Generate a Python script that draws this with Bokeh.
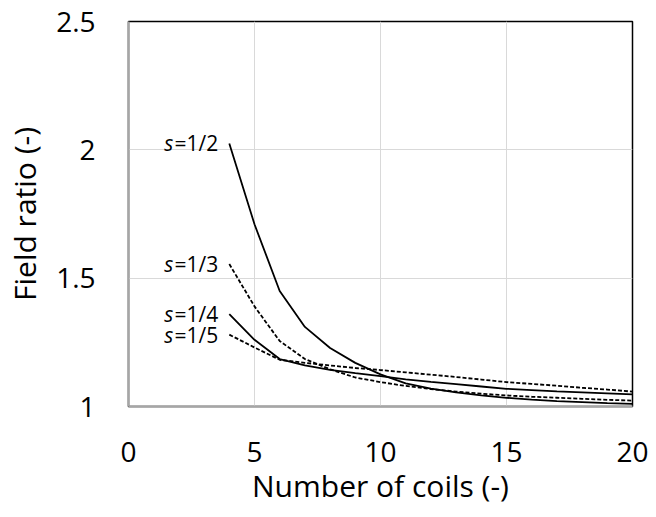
from bokeh.plotting import figure
from bokeh.models import FixedTicker, ColumnDataSource
from bokeh.core.properties import value
from bokeh.embed import file_html
from bokeh.resources import INLINE

coils = [4, 5, 6, 7, 8, 9, 10, 11, 12, 13, 14, 15, 16, 17, 18, 19, 20]
s_half = [2.025, 1.71, 1.45, 1.31, 1.228, 1.17, 1.125, 1.09, 1.07, 1.055, 1.043, 1.034, 1.027, 1.021, 1.017, 1.013, 1.010]
s_third = [1.555, 1.39, 1.255, 1.185, 1.145, 1.113, 1.095, 1.08, 1.068, 1.058, 1.05, 1.043, 1.038, 1.034, 1.03, 1.026, 1.023]
s_quarter = [1.36, 1.26, 1.185, 1.16, 1.143, 1.13, 1.118, 1.106, 1.096, 1.087, 1.078, 1.069, 1.064, 1.059, 1.055, 1.051, 1.047]
s_fifth = [1.28, 1.23, 1.182, 1.17, 1.16, 1.15, 1.142, 1.133, 1.124, 1.115, 1.105, 1.095, 1.088, 1.081, 1.073, 1.066, 1.058]

series_labels = ["=1/2", "=1/3", "=1/4", "=1/5"]
series_values = [s_half, s_third, s_quarter, s_fifth]
series_dash = ["solid", "4 2", "solid", "4 2"]

x_ticks = [0, 5, 10, 15, 20]
y_ticks = [1, 1.5, 2, 2.5]
y_tick_labels = ["1", "1.5", "2", "2.5"]

FONT = "Open Sans"

p = figure(width=648, height=509, x_range=(0, 20), y_range=(1, 2.5),
           output_backend="svg", toolbar_location=None,
           min_border_left=128, min_border_right=16, min_border_top=21, min_border_bottom=103)

p.outline_line_color = "black"
p.outline_line_width = 1.5
p.background_fill_color = "white"
p.border_fill_color = "white"

p.xgrid.grid_line_color = "#d9d9d9"
p.ygrid.grid_line_color = "#d9d9d9"
p.xgrid.grid_line_width = 1
p.ygrid.grid_line_width = 1

p.xaxis.ticker = FixedTicker(ticks=x_ticks)
p.yaxis.ticker = FixedTicker(ticks=y_ticks)
p.yaxis.major_label_overrides = {t: l for t, l in zip(y_ticks, y_tick_labels)}

for ax in (p.xaxis, p.yaxis):
    ax.major_tick_line_color = None
    ax.minor_tick_line_color = None
    ax.major_tick_out = 0
    ax.major_tick_in = 0
    ax.minor_tick_out = 0
    ax.minor_tick_in = 0
    ax.axis_line_color = "#a6a6a6"
    ax.axis_line_width = 2
    ax.major_label_text_font = FONT
    ax.major_label_text_font_size = "28px"
    ax.major_label_text_color = "black"
    ax.axis_label_text_font = FONT
    ax.axis_label_text_font_size = "30px"
    ax.axis_label_text_font_style = "normal"
    ax.axis_label_text_color = "black"

p.xaxis.axis_label = "Number of coils (-)"
p.yaxis.axis_label = "Field ratio (-)"
p.xaxis.major_label_standoff = 35
p.yaxis.major_label_standoff = 33
p.xaxis.axis_label_standoff = 0
p.yaxis.axis_label_standoff = 8

for vals, dash, lab in zip(series_values, series_dash, series_labels):
    src = ColumnDataSource(dict(x=coils, y=vals))
    p.line("x", "y", source=src, line_color="black", line_width=1.8, line_dash=dash)
    lsrc = ColumnDataSource(dict(x=[coils[0]], y=[vals[0]], t=[lab], s=["s"]))
    p.text("x", "y", text="t", source=lsrc, x_offset=-11, text_align="right",
           text_baseline="middle", text_font=value(FONT), text_font_size="21px",
           text_color="black")
    p.text("x", "y", text="s", source=lsrc, x_offset=-56, text_align="right",
           text_baseline="middle", text_font=value(FONT), text_font_size="21px",
           text_font_style="italic", text_color="black")

open("out.html", "w").write(file_html(p, INLINE))
